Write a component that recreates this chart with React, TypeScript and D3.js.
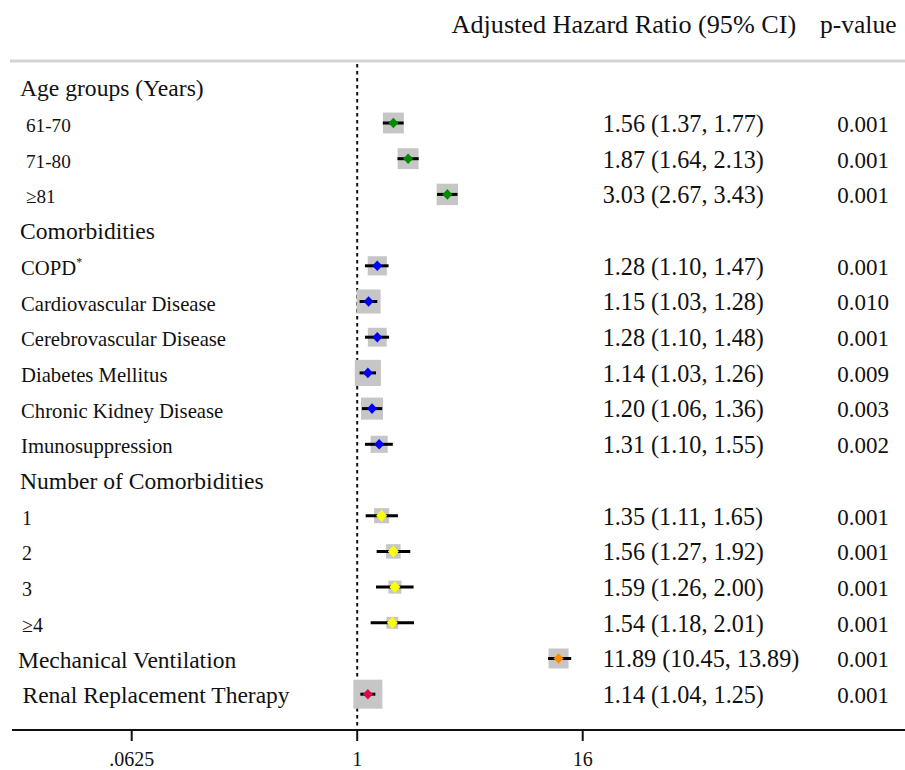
import React from "react";
import * as d3 from "d3";

const labels = [
  "Age groups (Years)", "61-70", "71-80", "≥81",
  "Comorbidities", "COPD*", "Cardiovascular Disease", "Cerebrovascular Disease",
  "Diabetes Mellitus", "Chronic Kidney Disease", "Imunosuppression",
  "Number of Comorbidities", "1", "2", "3", "≥4",
  "Mechanical Ventilation", "Renal Replacement Therapy",
];
const kinds = [
  "header", "age", "age", "age",
  "header", "item", "item", "item", "item", "item", "item",
  "header", "num", "num", "num", "num",
  "main", "main2",
];
const hr: (number | null)[] = [null, 1.56, 1.87, 3.03, null, 1.28, 1.15, 1.28, 1.14, 1.2, 1.31, null, 1.35, 1.56, 1.59, 1.54, 11.89, 1.14];
const lo: (number | null)[] = [null, 1.37, 1.64, 2.67, null, 1.1, 1.03, 1.1, 1.03, 1.06, 1.1, null, 1.11, 1.27, 1.26, 1.18, 10.45, 1.04];
const hi: (number | null)[] = [null, 1.77, 2.13, 3.43, null, 1.47, 1.28, 1.48, 1.26, 1.36, 1.55, null, 1.65, 1.92, 2.0, 2.01, 13.89, 1.25];
const pvals = ["", "0.001", "0.001", "0.001", "", "0.001", "0.010", "0.001", "0.009", "0.003", "0.002", "", "0.001", "0.001", "0.001", "0.001", "0.001", "0.001"];
const groups = ["", "age", "age", "age", "", "com", "com", "com", "com", "com", "com", "", "num", "num", "num", "num", "mv", "rrt"];
const weights = [0, 0.72, 0.72, 0.74, 0, 0.66, 0.83, 0.65, 0.9, 0.76, 0.59, 0, 0.52, 0.5, 0.45, 0.41, 0.69, 1.0];
const axisTicks = [0.0625, 1, 16];
const tickLabels = [".0625", "1", "16"];
const headerHR = "Adjusted Hazard Ratio (95% CI)";
const headerP = "p-value";

const groupColor: Record<string, string> = {
  age: "#008c00",
  com: "#0000ff",
  num: "#ffff00",
  mv: "#ff8c00",
  rrt: "#dc0a46",
};

const W = 905;
const H = 770;
const FONT = "'Liberation Serif', 'Times New Roman', serif";

export default function App() {
  const x = d3.scaleLog().base(2).domain([0.0625, 16]).range([131.7, 582.7]);
  const y = d3
    .scalePoint<number>()
    .domain(labels.map((_, i) => i))
    .range([87.3, 694.2]);
  const boxSize = d3.scaleLinear().domain([0, 1]).range([0, 29]);
  const axisY = 730;
  const refX = x(1);

  const labelX: Record<string, number> = { header: 20, age: 26, item: 21, num: 22, main: 18, main2: 22.5 };
  const labelSize: Record<string, number> = { header: 23.6, age: 19.2, item: 20.7, num: 20, main: 23.5, main2: 23.5 };

  const diamond = (cx: number, cy: number, big: boolean) => {
    const w = big ? 5.5 : 5;
    const h = big ? 6 : 5.3;
    return `M${cx},${cy - h}L${cx + w},${cy}L${cx},${cy + h}L${cx - w},${cy}Z`;
  };

  return (
    <svg
      width={W}
      height={H}
      style={{ position: "absolute", left: 0, top: 0, background: "#fff" }}
      fontFamily={FONT}
    >
      <rect x={0} y={0} width={W} height={H} fill="#fff" />
      {/* header */}
      <text x={451.5} y={33} fontSize={26.2} fill="#111">{headerHR}</text>
      <text x={820} y={33} fontSize={25.5} fill="#111">{headerP}</text>
      <line x1={10} x2={W} y1={61} y2={61} stroke="#d4d4d4" strokeWidth={3} />

      {/* reference line */}
      <line
        x1={refX}
        x2={refX}
        y1={64}
        y2={axisY}
        stroke="#111"
        strokeWidth={2}
        strokeDasharray="3.5,3.5"
      />

      {labels.map((lab, i) => {
        const cy = y(i) as number;
        const k = kinds[i];
        const star = lab.endsWith("*");
        const txt = star ? lab.slice(0, -1) : lab;
        return (
          <text key={"l" + i} x={labelX[k]} y={cy + 9} fontSize={labelSize[k]} fill="#111">
            {txt}
            {star && (
              <tspan fontSize={12} dy={-9}>
                *
              </tspan>
            )}
          </text>
        );
      })}

      {labels.map((_, i) => {
        const h = hr[i];
        if (h == null) return null;
        const cy = y(i) as number;
        const cx = x(h);
        const s = boxSize(weights[i]);
        const g = groups[i];
        return (
          <g key={"m" + i}>
            <rect x={cx - s / 2} y={cy - s / 2} width={s} height={s} fill="#c6c6c6" />
            <line x1={x(lo[i] as number)} x2={x(hi[i] as number)} y1={cy} y2={cy} stroke="#000" strokeWidth={3} />
            <path d={diamond(cx, cy, g === "num")} fill={groupColor[g]} />
          </g>
        );
      })}

      {labels.map((_, i) => {
        const h = hr[i];
        if (h == null) return null;
        const cy = y(i) as number;
        const str = `${h.toFixed(2)} (${(lo[i] as number).toFixed(2)}, ${(hi[i] as number).toFixed(2)})`;
        return (
          <g key={"t" + i}>
            <text x={602.7} y={cy + 8.8} fontSize={24.2} fill="#111">{str}</text>
            <text x={889} y={cy + 8.8} fontSize={23} fill="#111" textAnchor="end">{pvals[i]}</text>
          </g>
        );
      })}

      {/* axis */}
      <line x1={12} x2={W} y1={axisY} y2={axisY} stroke="#111" strokeWidth={2} />
      {axisTicks.map((t, i) => (
        <g key={"a" + i}>
          <line x1={x(t)} x2={x(t)} y1={axisY} y2={axisY + 11} stroke="#111" strokeWidth={2} />
          <text x={x(t)} y={766} fontSize={20} textAnchor="middle" fill="#111">
            {tickLabels[i]}
          </text>
        </g>
      ))}
    </svg>
  );
}
